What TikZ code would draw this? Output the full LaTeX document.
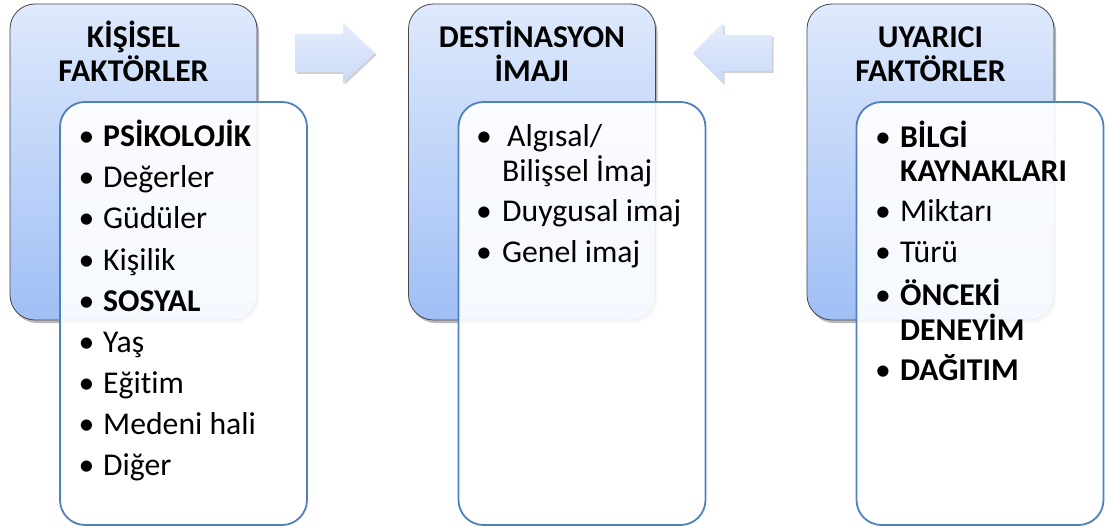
\documentclass[tikz,border=0pt]{standalone}
\usepackage{fontspec}
\setmainfont[Ligatures={NoCommon}]{Carlito}
\usetikzlibrary{shadows}
\definecolor{bluetop}{RGB}{222,233,252}
\definecolor{bluebot}{RGB}{160,191,246}
\definecolor{bluedraw}{RGB}{70,70,75}
\definecolor{wborder}{RGB}{79,129,189}
\definecolor{arrowtop}{RGB}{228,237,252}
\definecolor{arrowbot}{RGB}{202,217,247}
\newcommand\mysize{\fontsize{31.7}{38}\selectfont}
\tikzset{
  bluebox/.style={rectangle, rounded corners=25pt, draw=bluedraw, line width=0.8pt,
    top color=bluetop, bottom color=bluebot, minimum width=247pt, minimum height=316pt,
    inner sep=0pt, outer sep=0pt,
    drop shadow={shadow xshift=2pt, shadow yshift=-3pt, opacity=0.35, fill=black!80}},
  whitebox/.style={rectangle, rounded corners=25pt, draw=wborder, line width=1.8pt,
    fill=white, fill opacity=0.9, minimum width=247pt, minimum height=423pt,
    inner sep=0pt, outer sep=0pt},
  titletext/.style={anchor=base, inner sep=0pt, font=\mysize\bfseries, text=black},
  itemtext/.style={anchor=base west, inner sep=0pt, font=\mysize, text=black},
  itembold/.style={itemtext, font=\mysize\bfseries},
  bul/.style={anchor=base, inner sep=0pt, font=\mysize, text=black},
  blockarrow/.style={top color=arrowtop, bottom color=arrowbot, draw=none,
    drop shadow={shadow xshift=1.5pt, shadow yshift=-2pt, opacity=0.18, fill=black}}
}
\begin{document}
\begin{tikzpicture}[x=1pt,y=-1pt]
\useasboundingbox (0,0) rectangle (1109,532);
\fill[white] (0,0) rectangle (1109,532);

% block arrows
\path[blockarrow] (295,34) -- (343,34) -- (343,23) -- (375,53) -- (343,83) -- (343,72) -- (295,72) -- cycle;
\path[blockarrow] (772,35) -- (723,35) -- (723,23) -- (693,53) -- (723,83) -- (723,71) -- (772,71) -- cycle;

% blue boxes
\node[bluebox] (kb) at (133.5,162) {};
\node[bluebox] (db) at (532,162) {};
\node[bluebox] (ub) at (930.5,162) {};

% titles
\node[titletext] (kt1) at (133.5,48) {KİŞİSEL};
\node[titletext] (kt2) at (133.5,82) {FAKTÖRLER};
\node[titletext] (dt1) at (532,48) {DESTİNASYON};
\node[titletext] (dt2) at (532,82) {İMAJI};
\node[titletext] (ut1) at (930.5,48) {UYARICI};
\node[titletext] (ut2) at (930.5,82) {FAKTÖRLER};

% white boxes
\node[whitebox] (kw) at (183.5,313.5) {};
\node[whitebox] (dw) at (582,313.5) {};
\node[whitebox] (uw) at (980,313.5) {};

% left list
\node[bul] (kb1) at (86.5,147) {•}; \node[itembold] (ki1) at (103,147) {PSİKOLOJİK};
\node[bul] (kb2) at (86.5,188) {•}; \node[itemtext] (ki2) at (103,188) {Değerler};
\node[bul] (kb3) at (86.5,229) {•}; \node[itemtext] (ki3) at (103,229) {Güdüler};
\node[bul] (kb4) at (86.5,270) {•}; \node[itemtext] (ki4) at (103,270) {Kişilik};
\node[bul] (kb5) at (86.5,311) {•}; \node[itembold] (ki5) at (103,311) {SOSYAL};
\node[bul] (kb6) at (86.5,352) {•}; \node[itemtext] (ki6) at (103,352) {Yaş};
\node[bul] (kb7) at (86.5,393) {•}; \node[itemtext] (ki7) at (103,393) {Eğitim};
\node[bul] (kb8) at (86.5,434) {•}; \node[itemtext] (ki8) at (103,434) {Medeni hali};
\node[bul] (kb9) at (86.5,475) {•}; \node[itemtext] (ki9) at (103,475) {Diğer};

% middle list
\node[bul] (db1) at (484,147) {•}; \node[itemtext] (di1) at (507,147) {Algısal/};
\node[itemtext] (di1b) at (502,182) {Bilişsel İmaj};
\node[bul] (db2) at (484,222) {•}; \node[itemtext] (di2) at (502,222) {Duygusal imaj};
\node[bul] (db3) at (484,262) {•}; \node[itemtext] (di3) at (502,262) {Genel imaj};

% right list
\node[bul] (ub1) at (883,148) {•}; \node[itembold] (ui1) at (900,148) {BİLGİ};
\node[itembold] (ui1b) at (900,182) {KAYNAKLARI};
\node[bul] (ub2) at (883,222) {•}; \node[itemtext] (ui2) at (900,222) {Miktarı};
\node[bul] (ub3) at (883,262) {•}; \node[itemtext] (ui3) at (900,262) {Türü};
\node[bul] (ub4) at (883,305) {•}; \node[itembold] (ui4) at (900,305) {ÖNCEKİ};
\node[itembold] (ui4b) at (900,340) {DENEYİM};
\node[bul] (ub5) at (883,380) {•}; \node[itembold] (ui5) at (900,380) {DAĞITIM};
\end{tikzpicture}
\end{document}
